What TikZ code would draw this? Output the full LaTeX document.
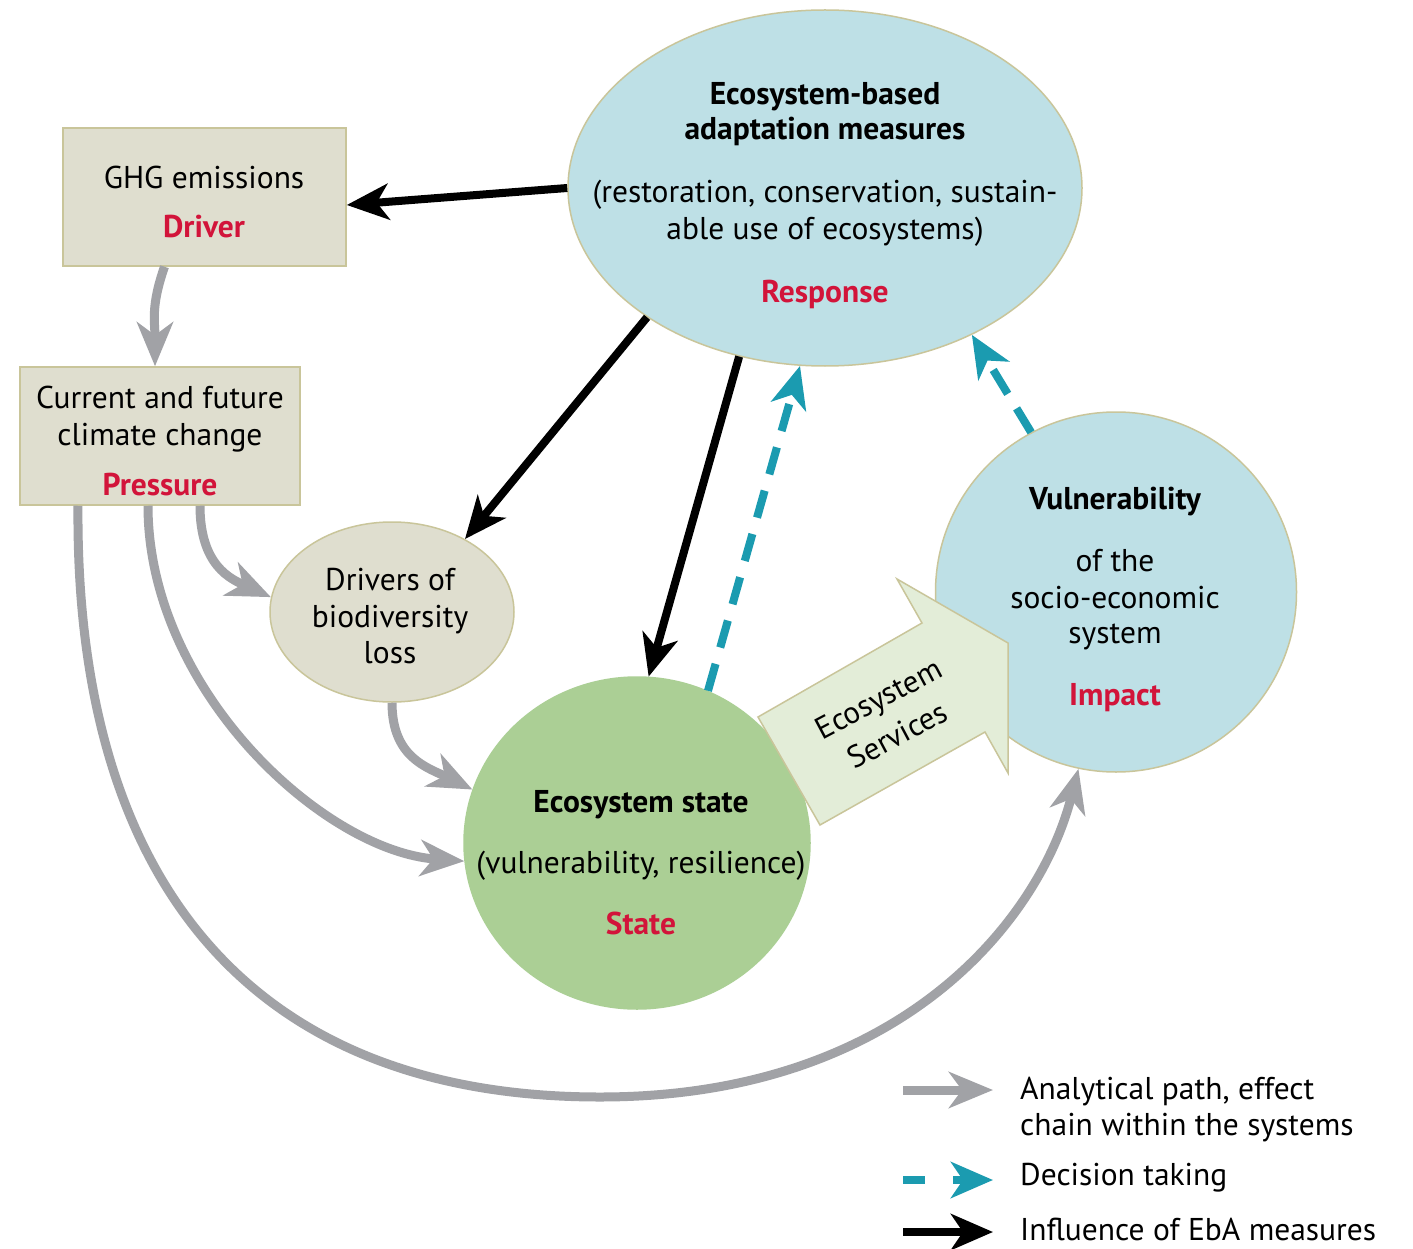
\documentclass[tikz,border=0pt]{standalone}
\usepackage{fontspec}
\setmainfont{PT Sans}
\usetikzlibrary{arrows.meta,shapes.geometric,calc}
\definecolor{lblue}{HTML}{BEE0E6}
\definecolor{boxfill}{HTML}{DFDECF}
\definecolor{tanline}{HTML}{C9C59A}
\definecolor{stategreen}{HTML}{ABCF95}
\definecolor{esfill}{HTML}{E3EDD8}
\definecolor{redtxt}{HTML}{D2143A}
\definecolor{arrgray}{HTML}{A1A2A6}
\definecolor{tealc}{HTML}{1B9BB0}
\begin{document}
\begin{tikzpicture}[x=1pt,y=-1pt,
  shapebox/.style={draw=tanline, line width=1.5pt, inner sep=0pt},
  txt/.style={font=\fontsize{31.5}{37}\selectfont, inner sep=0pt, anchor=base},
  btxt/.style={txt, font=\fontsize{31.5}{37}\selectfont\bfseries},
  rtxt/.style={txt, font=\fontsize{31.5}{37}\selectfont\bfseries, text=redtxt},
  graypath/.style={draw=arrgray, line width=9pt, -{Stealth[length=44pt,width=36pt,inset=13pt]}},
  blackpath/.style={draw=black, line width=8pt, -{Stealth[length=42pt,width=36pt,inset=12pt]}},
  tealpath/.style={draw=tealc, line width=8pt, dash pattern=on 28pt off 17pt, -{Stealth[length=42pt,width=36pt,inset=12pt]}}]
\useasboundingbox (0,0) rectangle (1413,1249);
\fill[white] (0,0) rectangle (1413,1249);

% shapes
\node[shapebox, ellipse, fill=lblue, minimum width=514pt, minimum height=356pt] (resp) at (825,188) {};
\node[shapebox, rectangle, fill=boxfill, minimum width=283pt, minimum height=138pt] (ghg) at (204.5,197) {};
\node[shapebox, rectangle, fill=boxfill, minimum width=280pt, minimum height=138pt] (clim) at (160,436) {};
\node[shapebox, ellipse, fill=boxfill, minimum width=244pt, minimum height=180pt] (drv) at (392,612) {};
\node[shapebox, ellipse, fill=stategreen, draw=stategreen, minimum width=346pt, minimum height=332pt] (state) at (637,843) {};
\node[shapebox, ellipse, fill=lblue, minimum width=361pt, minimum height=360pt] (vuln) at (1116,592) {};

% ecosystem services arrow
\filldraw[fill=esfill, draw=tanline, line width=1.5pt, line join=miter]
  (758,717) -- (922,623) -- (897,579) -- (1008,643) -- (1008,773) -- (985,732) -- (820,825) -- cycle;
\node[font=\fontsize{31}{41}\selectfont, align=center, rotate=28, inner sep=0pt] (es) at (888,717) {Ecosystem\\Services};

% texts
\node[btxt] (r1) at (825,105) {Ecosystem-based};
\node[btxt] (r2) at (825,140) {adaptation measures};
\node[txt] (r3) at (825,203) {(restoration, conservation, sustain-};
\node[txt] (r4) at (825,240) {able use of ecosystems)};
\node[rtxt] (r5) at (825,302) {Response};

\node[txt] (g1) at (204,189) {GHG emissions};
\node[rtxt] (g2) at (204,238) {Driver};

\node[txt] (c1) at (160,408) {Current and future};
\node[txt] (c2) at (160,445) {climate change};
\node[rtxt] (c3) at (160,495) {Pressure};

\node[txt] (d1) at (390,590) {Drivers of};
\node[txt] (d2) at (390,627) {biodiversity};
\node[txt] (d3) at (390,663) {loss};

\node[btxt] (s1) at (641,812) {Ecosystem state};
\node[txt] (s2) at (641,873) {(vulnerability, resilience)};
\node[rtxt] (s3) at (641,934) {State};

\node[btxt] (v1) at (1115,509) {Vulnerability};
\node[txt] (v2) at (1115,571) {of the};
\node[txt] (v3) at (1115,608) {socio-economic};
\node[txt] (v4) at (1115,643) {system};
\node[rtxt] (v5) at (1115,705) {Impact};

% grey analytical paths
\draw[graypath] ([xshift=-40pt]ghg.south) .. controls +(-14,40) and +(0,-45) .. ([xshift=-5pt]clim.north);
\draw[graypath] ([xshift=40pt]clim.south) .. controls +(0,60) and +(-40,-18) .. (drv.173);
\draw[graypath] (drv.south) .. controls +(0,55) and +(-45,-22) .. (state.162);
\draw[graypath] ([xshift=-12pt]clim.south) .. controls +(0,185) and +(-140,-10) .. (state.186);
\coordinate (bottom) at (600,1097);
\draw[graypath] ([xshift=-82pt]clim.south) .. controls +(-3,375) and (250,1097) .. (bottom)
  .. controls (900,1097) and (1040,920) .. (vuln.258);

% black influence arrows
\draw[blackpath] (resp.180) -- ([yshift=-8pt]ghg.east);
\draw[blackpath] (resp.216) -- (drv.45);
\draw[blackpath] (resp.243) -- (state.86);

% teal decision arrows
\draw[tealpath] (state.65) -- (resp.262);
\draw[tealpath] (vuln.118) -- (resp.315);

% legend
\coordinate (la1) at (903,1090); \coordinate (lb1) at (993,1090);
\coordinate (la2) at (903,1180); \coordinate (lb2) at (993,1180);
\coordinate (la3) at (903,1232); \coordinate (lb3) at (993,1232);
\draw[graypath] (la1) -- (lb1);
\draw[tealpath, dash pattern=on 22pt off 28pt] (la2) -- (lb2);
\draw[blackpath] (la3) -- (lb3);
\node[txt, anchor=base west] (lt1) at (1020,1099) {Analytical path, effect};
\node[txt, anchor=base west] (lt2) at (1020,1135) {chain within the systems};
\node[txt, anchor=base west] (lt3) at (1020,1185) {Decision taking};
\node[txt, anchor=base west] (lt4) at (1020,1240) {Influence of EbA measures};
\end{tikzpicture}
\end{document}
